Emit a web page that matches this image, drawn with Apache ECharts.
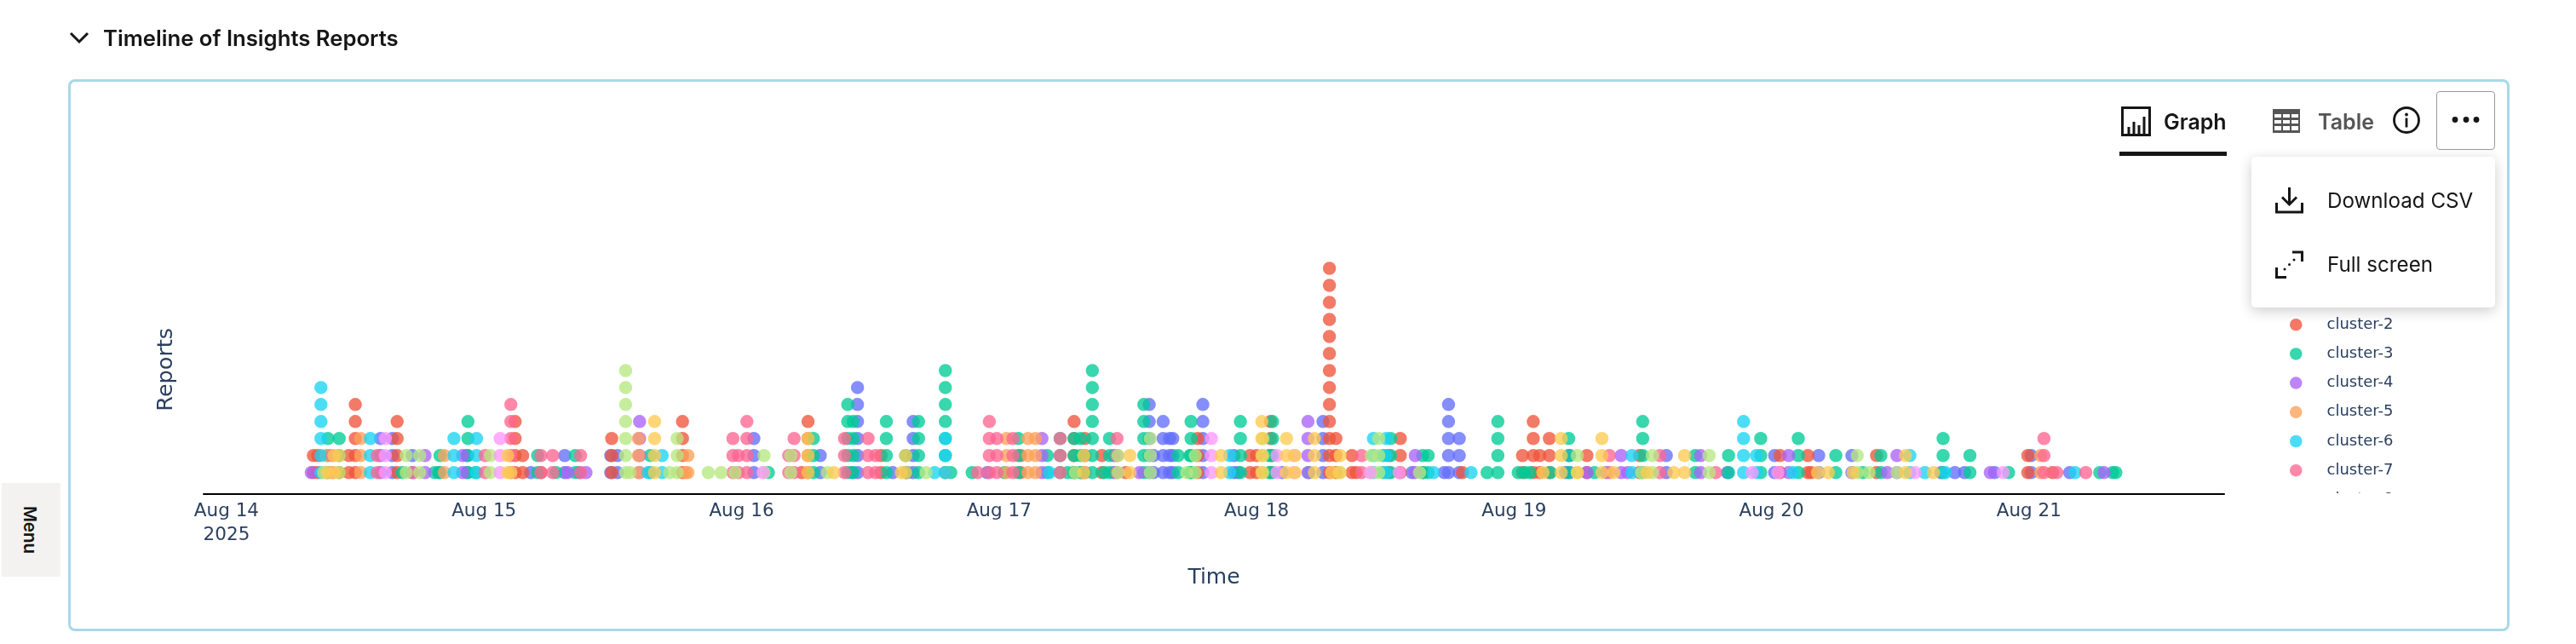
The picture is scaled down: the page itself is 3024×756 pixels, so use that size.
<!DOCTYPE html>
<html>
<head>
<meta charset="utf-8">
<title>Timeline of Insights Reports</title>
<script src="https://cdn.jsdelivr.net/npm/echarts@6/dist/echarts.min.js"></script>
<style>
  html, body { margin: 0; padding: 0; background: #fff; width: 3024px; height: 756px; overflow: hidden; font-family: Inter, sans-serif; color: #161616; }
  #chart { position: absolute; left: 0; top: 0; width: 3024px; height: 756px; }
  .abs { position: absolute; }
  .heading { left: 121px; top: 29px; font-size: 25.7px; line-height: 32px; font-weight: 600; white-space: nowrap; }
  .card { left: 80px; top: 92.5px; width: 2860px; height: 642px; border: 3px solid #a8d8e8; border-radius: 8px; box-sizing: content-box; pointer-events: none; }
  .menu { left: 2px; top: 566.5px; width: 69px; height: 110px; background: #f3f2f0; }
  .menu span { position: absolute; left: 33px; top: 55px; transform: translate(-50%, -50%) rotate(90deg); font-size: 20.5px; font-weight: 600; white-space: nowrap; }
  .tab { font-size: 25px; line-height: 32px; font-weight: 600; white-space: nowrap; }
  .underline { left: 2488px; top: 178px; width: 126px; height: 5px; background: #161616; }
  .more { left: 2860px; top: 107px; width: 69px; height: 69px; box-sizing: border-box; border: 1.5px solid #9a9a9a; border-radius: 4px; background: #fff; }
  .popup { left: 2643px; top: 184px; width: 286px; height: 177px; background: #fff; border-radius: 5px; box-shadow: 0 4px 16px rgba(0,0,0,.2); }
  .item { left: 2732px; font-size: 24.2px; line-height: 32px; white-space: nowrap; }
  .legend-mask { left: 2650px; top: 579px; width: 260px; height: 110px; background: #fff; }
</style>
</head>
<body>
<div id="chart"></div>

<svg class="abs" style="left:80px;top:36px" width="26" height="16" viewBox="0 0 26 16"><polyline points="3,3 13,13 23,3" fill="none" stroke="#161616" stroke-width="3"/></svg>
<div class="abs heading">Timeline of Insights Reports</div>
<div class="abs card"></div>
<div class="abs menu"><span>Menu</span></div>

<svg class="abs" style="left:2490px;top:125px" width="35" height="35" viewBox="0 0 35 35" fill="none" stroke="#161616" stroke-width="3"><rect x="1.5" y="1.5" width="32" height="32"/><path d="M9 33V24M15 33V18M21 33V22M27 33V12"/></svg>
<div class="abs tab" style="left:2540px;top:127px">Graph</div>
<div class="abs underline"></div>
<svg class="abs" style="left:2668px;top:128px" width="32" height="28" viewBox="0 0 32 28"><rect width="32" height="28" fill="#555"/><g fill="#fff"><rect x="2" y="6" width="8" height="4"/><rect x="12" y="6" width="8" height="4"/><rect x="22" y="6" width="8" height="4"/><rect x="2" y="13" width="8" height="4"/><rect x="12" y="13" width="8" height="4"/><rect x="22" y="13" width="8" height="4"/><rect x="2" y="20" width="8" height="5"/><rect x="12" y="20" width="8" height="5"/><rect x="22" y="20" width="8" height="5"/></g></svg>
<div class="abs tab" style="left:2721px;top:127px;color:#555">Table</div>
<svg class="abs" style="left:2808px;top:124px" width="34" height="34" viewBox="0 0 34 34"><circle cx="17" cy="17" r="14.5" fill="none" stroke="#161616" stroke-width="2.8"/><rect x="15.6" y="14.5" width="2.8" height="11" fill="#161616"/><circle cx="17" cy="10.5" r="1.9" fill="#161616"/></svg>
<div class="abs more"></div>
<svg class="abs" style="left:2875px;top:134px" width="40" height="14" viewBox="0 0 40 14" fill="#161616"><circle cx="7" cy="6.5" r="3.4"/><circle cx="20" cy="6.5" r="3.4"/><circle cx="32" cy="6.5" r="3.4"/></svg>

<div class="abs legend-mask"></div>
<div class="abs popup"></div>
<svg class="abs" style="left:2671px;top:219px" width="33" height="32" viewBox="0 0 33 32" fill="none" stroke="#161616" stroke-width="3"><path d="M16.5 1V20M8 12.5L16.5 21L25 12.5M1.5 19V30H31.5V19"/></svg>
<div class="abs item" style="top:220px">Download CSV</div>
<svg class="abs" style="left:2671px;top:294px" width="33" height="33" viewBox="0 0 33 33" fill="none" stroke="#161616" stroke-width="3"><path d="M20 2H31.5V13M1.5 20V31.5H13"/><circle cx="11" cy="22" r="1.5" fill="#161616" stroke="none"/><circle cx="16.5" cy="16.5" r="1.5" fill="#161616" stroke="none"/><circle cx="22" cy="11" r="1.5" fill="#161616" stroke="none"/></svg>
<div class="abs item" style="top:295px">Full screen</div>

<script>
// Report counts per cluster: [hours after the start of Aug 14, reports in that slot]
const cluster1 = [[14.35,3],[15.46,3],[17.31,2],[19.77,1],[22.39,2],[28.35,1],[31.52,2],[32.87,1],[35.81,2],[36.44,2],[49.15,3],[55.34,2],[58.28,1],[58.81,6],[62.09,1],[63.44,1],[64.0,4],[70.9,1],[79.7,1],[82.7,2],[86.0,5],[86.4,2],[87.3,4],[87.9,3],[88.2,3],[91.0,5],[93.9,2],[94.3,1],[98.4,1],[102.2,4],[110.5,1],[111.5,1],[113.5,1],[113.9,5],[114.9,3],[124.8,1],[125.2,2],[128.6,1],[134.2,2],[139.9,1],[144.3,2],[148.4,2],[151.5,2],[159.8,1],[161.1,1],[162.0,1],[164.8,1],[168.2,2],[171.8,1]];
const cluster2 = [[8.1,2],[8.5,2],[11.4,2],[12.0,5],[15.9,4],[26.9,4],[27.6,2],[29.3,1],[35.9,3],[42.5,4],[53.6,1],[54.2,4],[61.0,2],[74.0,2],[79.0,4],[80.0,3],[81.6,2],[83.8,1],[90.5,3],[95.4,2],[96.0,2],[97.3,4],[102.8,13],[103.4,3],[104.9,2],[105.3,1],[108.3,2],[109.4,3],[115.2,1],[120.8,2],[121.8,4],[122.4,2],[123.3,3],[126.8,2],[131.7,2],[144.8,2],[147.4,2],[147.7,1],[153.8,2],[167.9,2],[170.2,1]];
const cluster3 = [[9.45,3],[10.5,3],[16.4,1],[19.4,1],[19.9,2],[22.5,4],[23.2,1],[29.0,2],[30.7,1],[32.5,2],[39.5,2],[50.5,1],[54.7,3],[57.9,5],[58.4,4],[61.5,4],[63.3,2],[64.5,4],[67.0,7],[67.5,1],[69.5,1],[72.5,1],[73.8,3],[76.5,2],[77.7,3],[78.4,1],[79.0,3],[79.6,3],[80.7,7],[81.8,1],[82.3,3],[85.5,5],[88.7,2],[89.8,2],[89.9,4],[94.5,4],[97.2,2],[97.5,4],[100.9,1],[107.8,2],[108.5,3],[111.5,2],[112.0,2],[117.5,1],[118.5,4],[120.4,1],[121.0,1],[121.5,1],[123.4,1],[125.1,3],[127.5,1],[132.0,4],[136.9,2],[140.0,2],[143.0,3],[146.5,3],[150.0,2],[152.5,1],[154.2,2],[160.0,3],[162.5,2],[166.1,1],[174.6,1],[175.8,1],[176.1,1]];
const cluster4 = [[7.9,1],[18.5,2],[22.0,2],[31.8,1],[33.5,1],[38.5,4],[76.0,3],[85.1,1],[100.8,4],[110.8,2],[126.8,1],[130.0,2],[130.6,1],[137.4,2],[145.6,2],[154.8,1],[155.7,2],[164.4,1],[175.0,1]];
const cluster5 = [[9.3,2],[12.5,3],[20.3,2],[38.4,3],[42.8,1],[43.0,2],[67.0,1],[72.7,3],[74.7,3],[75.4,3],[169.1,2]];
const cluster6 = [[8.8,6],[13.4,3],[21.2,3],[23.3,3],[39.3,1],[40.6,2],[66.0,1],[67.0,3],[76.7,1],[93.5,2],[106.9,3],[108.1,3],[112.5,1],[116.0,1],[131.0,2],[141.4,4],[142.6,2],[146.0,1],[156.9,2],[158.3,1],[160.2,1],[172.3,1]];
const cluster7 = [[9.85,2],[14.05,2],[17.4,1],[24.1,2],[26.5,5],[29.3,2],[30.4,2],[33.0,2],[47.2,3],[47.7,2],[48.5,4],[52.4,2],[52.9,3],[57.6,3],[59.8,3],[60.5,2],[70.0,1],[71.1,4],[71.8,3],[73.3,3],[77.7,3],[83.0,3],[105.8,2],[128.9,2],[133.6,2],[138.8,1],[169.4,3],[170.6,1],[173.3,1]];
const cluster8 = [[9.05,1],[16.75,2],[18.0,2],[24.6,2],[37.2,7],[37.6,1],[41.3,1],[42.0,3],[44.9,1],[46.1,1],[47.4,1],[50.1,2],[52.6,2],[56.0,1],[65.2,1],[79.1,1],[83.1,2],[86.1,3],[89.5,1],[90.3,2],[96.6,3],[103.7,1],[106.7,2],[107.4,3],[111.2,1],[125.9,2],[131.9,1],[132.9,2],[138.2,2],[152.0,2],[153.1,1],[155.7,1]];
const cluster9 = [[14.8,3],[25.5,3],[50.0,1],[91.8,3],[97.9,2],[99.5,2],[106.6,1],[109.3,1],[142.2,1],[144.6,1],[157.4,1],[165.6,1]];
const cluster10 = [[9.4,1],[10.0,2],[10.5,2],[26.2,2],[26.5,1],[39.9,4],[54.2,3],[56.6,1],[62.9,1],[63.3,2],[79.9,2],[84.2,2],[92.7,2],[96.5,4],[98.8,3],[99.6,2],[101.4,3],[103.0,1],[103.8,2],[122.7,1],[124.4,3],[125.9,1],[128.2,3],[129.3,1],[132.4,1],[134.9,1],[135.9,2],[148.3,1],[149.3,1],[151.6,1],[156.5,2],[159.1,1]];

const clusterNames = ['cluster-1','cluster-2','cluster-3','cluster-4','cluster-5','cluster-6','cluster-7','cluster-8','cluster-9','cluster-10'];
const clusterColors = ['#636efa','#ef553b','#00cc96','#ab63fa','#ffa15a','#19d3f3','#ff6692','#b6e880','#ff97ff','#fecb52'];
const clusterValues = [cluster1,cluster2,cluster3,cluster4,cluster5,cluster6,cluster7,cluster8,cluster9,cluster10];

const tickHours = [0,24,48,72,96,120,144,168];
const tickLabels = ['Aug 14\n2025','Aug 15','Aug 16','Aug 17','Aug 18','Aug 19','Aug 20','Aug 21'];

const inkColor = '#2a3f5f';

// Each report is one dot: a slot with n reports is a column of dots at 1..n
const series = clusterNames.map((name, i) => {
  const points = [];
  clusterValues[i].forEach(([hour, count]) => {
    for (let level = 1; level <= count; level++) points.push([hour, level]);
  });
  return {
    name, type: 'scatter', data: points, symbol: 'circle', symbolSize: 15.5,
    itemStyle: { color: clusterColors[i], opacity: 0.78 },
    emphasis: { disabled: true }
  };
});

const chart = echarts.init(document.getElementById('chart'), null, { renderer: 'canvas' });
chart.setOption({
  animation: false,
  backgroundColor: 'transparent',
  textStyle: { fontFamily: 'DejaVu Sans' },
  tooltip: { show: false },
  legend: {
    orient: 'vertical', left: 2688, top: 338, padding: 0,
    itemWidth: 14.5, itemHeight: 14.5, itemGap: 16.2, icon: 'circle',
    selectedMode: false,
    data: clusterNames,
    textStyle: { color: inkColor, fontSize: 18, fontFamily: 'DejaVu Sans', padding: [0,0,0,24] }
  },
  grid: { left: 239, right: 413, top: 288, bottom: 176.5, containLabel: false },
  xAxis: {
    type: 'value',
    min: -2.14,
    max: 186.2,
    name: 'Time', nameLocation: 'middle', nameGap: 86,
    nameTextStyle: { color: inkColor, fontSize: 25, fontFamily: 'DejaVu Sans' },
    axisLine: { show: true, onZero: false, lineStyle: { color: '#000', width: 2 } },
    axisTick: { show: false },
    splitLine: { show: false },
    axisLabel: {
      customValues: tickHours,
      color: inkColor, fontSize: 21.5, fontFamily: 'DejaVu Sans', lineHeight: 28, margin: 7,
      align: 'center', hideOverlap: false, showMinLabel: true, showMaxLabel: true,
      formatter: value => tickLabels[tickHours.indexOf(value)] || ''
    }
  },
  yAxis: {
    type: 'value',
    min: -0.235, max: 14.35,
    name: 'Reports', nameLocation: 'middle', nameGap: 31, nameRotate: 90,
    nameTextStyle: { color: inkColor, fontSize: 25.5, fontFamily: 'DejaVu Sans' },
    axisLine: { show: false }, axisTick: { show: false }, axisLabel: { show: false }, splitLine: { show: false }
  },
  series
});
</script>
</body>
</html>
